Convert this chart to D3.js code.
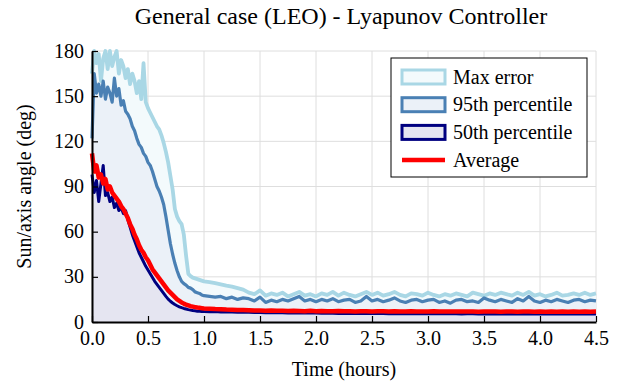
<!DOCTYPE html>
<html>
<head>
<meta charset="utf-8">
<script src="https://cdn.jsdelivr.net/npm/d3@7"></script>
<style>
  body { margin: 0; background: #fff; }
  .serif { font-family: "Liberation Serif"; }
</style>
</head>
<body>
<svg id="plot" width="629" height="386">
  <text x="341" y="24" text-anchor="middle" font-family="Liberation Serif" font-size="24">General case (LEO) - Lyapunov Controller</text>
</svg>
<script>
// sample times (hours)
var hours = [
  0, 0.02, 0.04, 0.06, 0.08, 0.10, 0.12, 0.14, 0.16, 0.18,
  0.20, 0.22, 0.24, 0.26, 0.28, 0.30, 0.32, 0.34, 0.36, 0.38,
  0.40, 0.42, 0.44, 0.46, 0.48, 0.50, 0.52, 0.54, 0.56, 0.58,
  0.60, 0.62, 0.64, 0.66, 0.68, 0.70, 0.72, 0.74, 0.76, 0.78,
  0.80, 0.82, 0.84, 0.86, 0.88, 0.90, 0.92, 0.94, 0.96, 0.98, 1.00,
  1.05, 1.10, 1.15, 1.20, 1.25, 1.30, 1.35, 1.40, 1.45, 1.50,
  1.55, 1.60, 1.65, 1.70, 1.75, 1.80, 1.85, 1.90, 1.95, 2.00,
  2.05, 2.10, 2.15, 2.20, 2.25, 2.30, 2.35, 2.40, 2.45, 2.50,
  2.55, 2.60, 2.65, 2.70, 2.75, 2.80, 2.85, 2.90, 2.95, 3.00,
  3.05, 3.10, 3.15, 3.20, 3.25, 3.30, 3.35, 3.40, 3.45, 3.50,
  3.55, 3.60, 3.65, 3.70, 3.75, 3.80, 3.85, 3.90, 3.95, 4.00,
  4.05, 4.10, 4.15, 4.20, 4.25, 4.30, 4.35, 4.40, 4.45, 4.50
];

var maxError = [
  165, 182, 172, 178, 160, 175, 183, 168, 185, 170,
  176, 182, 165, 174, 170, 162, 168, 158, 165, 160,
  152, 160, 148, 172, 146, 142, 139, 136, 133, 130,
  128, 124, 119, 113, 106, 97, 88, 75, 70, 67,
  65, 58, 44, 32, 30.5, 29.5, 29, 28.5, 28, 27.5, 27,
  26.5, 25.8, 25, 24.2, 23.5, 22.5, 21.5, 19.5, 18.5, 21,
  17.5, 19, 18, 19.5, 17, 18.5, 20, 17.5, 18.5, 17,
  19, 18, 20, 17.5, 19.5, 18, 17, 18.5, 20, 18,
  19.5, 17.5, 18.5, 20, 18, 17, 19, 18.5, 17.5, 19.5,
  18, 17, 18.5, 17.5, 19, 18, 17, 19.5, 18.5, 17.5,
  19, 18, 19.5, 18.5, 17.5, 19.5, 18, 20, 17.5, 18.5,
  17, 18, 19.5, 17.5, 18, 19, 18, 19.5, 18, 19
];

var p95 = [
  122, 165, 152, 158, 150, 160, 148, 156, 152, 146,
  162, 150, 155, 144, 147, 140, 138, 135, 130, 127,
  122, 118, 116, 112, 110, 106, 104, 100, 95, 90,
  87, 83, 78, 70, 61, 52, 45, 39, 34, 30,
  27, 25.5, 24.5, 23, 22.5, 21.5, 20, 19.5, 19, 18, 17.5,
  17, 16.5, 17, 15.5, 16.5, 15, 16, 15.5, 14, 16.5,
  13, 14.5, 13.5, 15, 14, 15.5, 17, 14, 15, 13.5,
  15, 14, 15.5, 13.5, 14.5, 15, 13, 14, 17, 14,
  15, 13.5, 14.5, 16, 14, 13, 14.5, 15, 13.5, 14.5,
  15, 13, 14, 12.5, 14.5, 15, 13.5, 14, 13, 16,
  14.5, 13.5, 15, 14, 13, 15.5, 14, 17, 14, 13,
  14.5, 13.5, 15, 14, 13, 14.5, 15, 13.5, 14.5, 14
];

var p50 = [
  98, 86, 94, 80, 92, 104, 84, 86, 80, 83,
  76, 79, 74, 76, 72, 74, 68, 63, 58, 54,
  50, 46, 43, 40, 37, 34.5, 32, 29.5, 27, 25,
  23, 21, 19, 17, 15.2, 13.8, 12.6, 11.6, 10.8, 10.1,
  9.5, 9, 8.6, 8.2, 7.9, 7.6, 7.4, 7.2, 7.1, 7, 6.9,
  6.8, 6.9, 6.7, 6.6, 6.7, 6.5, 6.4, 6.5, 6.3, 6.3,
  6.2, 6.3, 6.1, 6.1, 6.0, 6.1, 6.0, 5.9, 6.0, 5.9,
  5.8, 5.9, 5.8, 5.7, 5.8, 5.7, 5.7, 5.6, 5.7, 5.6,
  5.6, 5.7, 5.5, 5.6, 5.5, 5.5, 5.6, 5.5, 5.4, 5.5,
  5.4, 5.5, 5.4, 5.4, 5.5, 5.3, 5.4, 5.4, 5.3, 5.4,
  5.3, 5.4, 5.3, 5.3, 5.4, 5.3, 5.3, 5.4, 5.3, 5.3,
  5.4, 5.3, 5.3, 5.3, 5.4, 5.3, 5.3, 5.3, 5.4, 5.3
];

var average = [
  112, 100, 104, 96, 98, 92, 95, 88, 90, 86,
  84, 82, 80, 77, 75, 72, 69, 65, 62, 58,
  55, 51, 48, 46, 43, 41, 38, 35, 33, 31,
  29, 27, 25, 23, 21, 19.5, 18, 16.5, 15, 14,
  13, 12.2, 11.5, 11, 10.5, 10.2, 9.9, 9.6, 9.4, 9.2, 9,
  8.8, 8.6, 8.5, 8.3, 8.2, 8.0, 7.9, 7.8, 7.7, 7.6,
  7.5, 7.6, 7.4, 7.5, 7.3, 7.4, 7.3, 7.2, 7.4, 7.2,
  7.3, 7.2, 7.1, 7.3, 7.1, 7.2, 7.0, 7.2, 7.1, 7.0,
  7.1, 7.2, 7.0, 7.1, 7.0, 6.9, 7.1, 7.0, 6.9, 7.0,
  7.1, 6.9, 7.0, 6.9, 7.0, 7.0, 6.9, 7.0, 6.8, 6.9,
  7.0, 6.9, 6.8, 6.9, 7.0, 6.8, 6.9, 6.9, 6.8, 6.9,
  6.8, 6.9, 6.8, 6.9, 6.8, 6.9, 6.8, 6.9, 6.8, 6.9
];

var xTicks = [0, 0.5, 1, 1.5, 2, 2.5, 3, 3.5, 4, 4.5];
var yTicks = [0, 30, 60, 90, 120, 150, 180];

var series = [
  { name: "Max error",       values: maxError, line: "#a9d7e5", fill: "#f3fafc", width: 3.8 },
  { name: "95th percentile", values: p95,      line: "#4a80b4", fill: "#ebf1f8", width: 3.2 },
  { name: "50th percentile", values: p50,      line: "#000080", fill: "#e5e5f1", width: 3 },
  { name: "Average",         values: average,  line: "#ff0000", fill: null,      width: 4.5 }
];

var W = 629, H = 386;
var margin = { left: 92, right: 33, top: 51, bottom: 64 };
var iw = W - margin.left - margin.right;
var ih = H - margin.top - margin.bottom;

var svg = d3.select("#plot");

var g = svg.append("g")
  .attr("transform", "translate(" + margin.left + "," + margin.top + ")");

var x = d3.scaleLinear().domain([0, 4.5]).range([0, iw]);
var y = d3.scaleLinear().domain([0, 180]).range([ih, 0]);

// grid
g.append("g").selectAll("line.vg").data(xTicks).enter().append("line")
  .attr("x1", function (d) { return x(d); }).attr("x2", function (d) { return x(d); })
  .attr("y1", 0).attr("y2", ih)
  .attr("stroke", "#dedede").attr("stroke-width", 1);
g.append("g").selectAll("line.hg").data(yTicks).enter().append("line")
  .attr("y1", function (d) { return y(d); }).attr("y2", function (d) { return y(d); })
  .attr("x1", 0).attr("x2", iw)
  .attr("stroke", "#dedede").attr("stroke-width", 1);

// values above 180 run off the top of the frame
var yc = function (d) { return y(Math.min(d, 180)); };

var area = d3.area()
  .x(function (d, i) { return x(hours[i]); })
  .y0(y(0))
  .y1(yc);
var line = d3.line()
  .x(function (d, i) { return x(hours[i]); })
  .y(yc);

series.forEach(function (s) {
  if (s.fill) {
    g.append("path").datum(s.values)
      .attr("d", area)
      .attr("fill", s.fill);
  }
  g.append("path").datum(s.values)
    .attr("d", line)
    .attr("fill", "none")
    .attr("stroke", s.line)
    .attr("stroke-width", s.width)
    .attr("stroke-linejoin", "round");
});

// axes
var xAxis = d3.axisBottom(x).tickValues(xTicks).tickSizeInner(-6).tickSizeOuter(0)
  .tickPadding(9).tickFormat(d3.format(".1f"));
var yAxis = d3.axisLeft(y).tickValues(yTicks).tickSizeInner(-6).tickSizeOuter(0)
  .tickPadding(8);

var gx = g.append("g").attr("transform", "translate(0," + ih + ")").call(xAxis);
var gy = g.append("g").call(yAxis);

[gx, gy].forEach(function (a) {
  a.attr("font-family", null).attr("font-size", null);
  a.select(".domain").attr("stroke", "#000").attr("stroke-width", 2);
  a.selectAll(".tick line").attr("stroke", "#000").attr("stroke-width", 1.2);
  a.selectAll(".tick text")
    .attr("fill", "#000")
    .attr("font-family", "Liberation Serif")
    .attr("font-size", 20);
});
gy.selectAll(".tick text").attr("dy", "0.3em");

// axis titles
svg.append("text")
  .attr("x", margin.left + iw / 2).attr("y", 376)
  .attr("text-anchor", "middle")
  .attr("font-family", "Times New Roman").attr("font-size", 20)
  .text("Time (hours)");

svg.append("text")
  .attr("transform", "translate(31," + (margin.top + ih / 2) + ") rotate(-90)")
  .attr("text-anchor", "middle")
  .attr("font-family", "Times New Roman").attr("font-size", 20)
  .text("Sun/axis angle (deg)");

// legend
var legend = svg.append("g").attr("transform", "translate(391,58)");
legend.append("rect")
  .attr("width", 196).attr("height", 119)
  .attr("fill", "#fff").attr("stroke", "#000").attr("stroke-width", 1);

series.forEach(function (s, i) {
  var row = legend.append("g").attr("transform", "translate(0," + (19 + i * 27.7) + ")");
  if (s.fill) {
    row.append("rect")
      .attr("x", 11).attr("y", -7).attr("width", 43).attr("height", 14)
      .attr("fill", s.fill).attr("stroke", s.line).attr("stroke-width", 3);
  } else {
    row.append("line")
      .attr("x1", 11).attr("x2", 54).attr("y1", 0).attr("y2", 0)
      .attr("stroke", s.line).attr("stroke-width", 4.5);
  }
  row.append("text")
    .attr("class", "serif")
    .attr("x", 62).attr("y", 0).attr("dy", "0.33em")
    .style("font-size", "20px")
    .text(s.name);
});
</script>
</body>
</html>
